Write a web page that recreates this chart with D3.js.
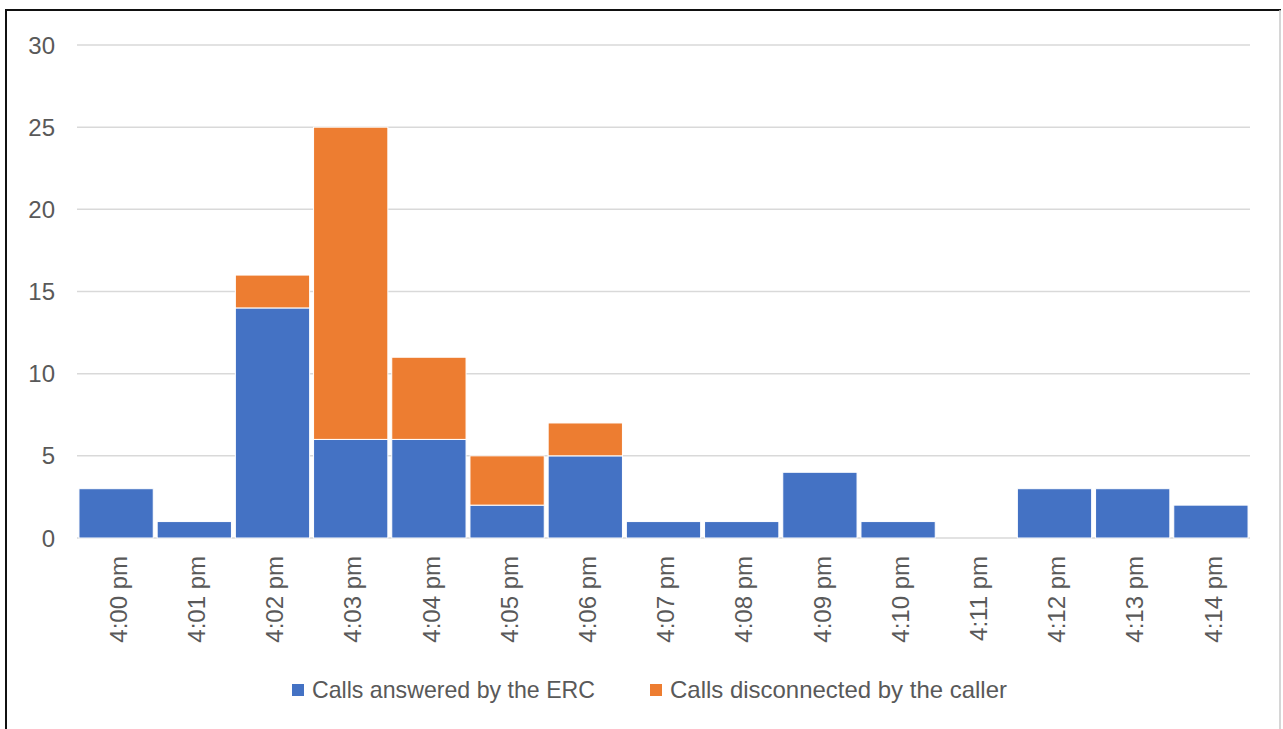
<!DOCTYPE html>
<html>
<head>
<meta charset="utf-8">
<script src="https://cdn.jsdelivr.net/npm/d3@7"></script>
<style>
  html, body { margin: 0; padding: 0; background: #fff; }
  svg { display: block; }
  text { font-family: "Liberation Sans", Arial, sans-serif; fill: #595959; }
</style>
</head>
<body>
<svg id="chart" width="1283" height="729"></svg>
<script>
const categories = ["4:00 pm","4:01 pm","4:02 pm","4:03 pm","4:04 pm","4:05 pm","4:06 pm","4:07 pm","4:08 pm","4:09 pm","4:10 pm","4:11 pm","4:12 pm","4:13 pm","4:14 pm"];
const answered =     [3, 1, 14, 6, 6, 2, 5, 1, 1, 4, 1, 0, 3, 3, 2];
const disconnected = [0, 0, 2, 19, 5, 3, 2, 0, 0, 0, 0, 0, 0, 0, 0];
const seriesNames = ["Calls answered by the ERC", "Calls disconnected by the caller"];
const yTicks = [0, 5, 10, 15, 20, 25, 30];

const colors = ["#4472C4", "#ED7D31"];
const svg = d3.select("#chart");

// frame
svg.append("line").attr("x1", 5).attr("x2", 1281).attr("y1", 10).attr("y2", 10).attr("stroke", "#111").attr("stroke-width", 2);
svg.append("line").attr("x1", 6).attr("x2", 6).attr("y1", 10).attr("y2", 729).attr("stroke", "#111").attr("stroke-width", 2);
svg.append("line").attr("x1", 1280).attr("x2", 1280).attr("y1", 10).attr("y2", 729).attr("stroke", "#c8c8c8").attr("stroke-width", 1.5);

const x = d3.scaleBand().domain(categories).range([77, 1250]).paddingInner(0.05).paddingOuter(0.025);
const y = d3.scaleLinear().domain([0, 30]).range([538, 45]);

// gridlines
svg.append("g").selectAll("line").data(yTicks).join("line")
  .attr("x1", 77).attr("x2", 1250)
  .attr("y1", d => y(d)).attr("y2", d => y(d))
  .attr("stroke", "#D9D9D9").attr("stroke-width", 1.5);

// y labels
svg.append("g").selectAll("text").data(yTicks).join("text")
  .attr("x", 55).attr("y", d => y(d)).attr("dy", "0.36em")
  .attr("text-anchor", "end").attr("font-size", 24)
  .text(d => d);

// stacked bars
const rows = categories.map((c, i) => ({cat: c, a: answered[i], d: disconnected[i]}));
const stack = d3.stack().keys(["a", "d"])(rows);
svg.append("g").selectAll("g").data(stack).join("g")
  .attr("fill", (s, i) => colors[i])
  .selectAll("rect").data(s => s.filter(p => p[1] - p[0] > 0)).join("rect")
  .attr("x", p => x(p.data.cat))
  .attr("width", x.bandwidth())
  .attr("y", p => y(p[1]))
  .attr("height", p => y(p[0]) - y(p[1]))
  .attr("stroke", "#fff").attr("stroke-width", 1);

// x labels
svg.append("g").selectAll("text").data(categories).join("text")
  .attr("transform", d => `translate(${x(d) + x.bandwidth() / 2 + 2},556) rotate(-90)`)
  .attr("text-anchor", "end").attr("dy", "0.36em")
  .attr("font-size", 24)
  .text(d => d);

// legend
const legendX = [292, 650];
const legendW = [283, 337];
const lg = svg.append("g").selectAll("g").data(seriesNames).join("g");
lg.append("rect").attr("x", (d, i) => legendX[i]).attr("y", 684).attr("width", 12).attr("height", 12).attr("fill", (d, i) => colors[i]);
lg.append("text").attr("x", (d, i) => legendX[i] + 20).attr("y", 698)
  .attr("font-size", 24)
  .attr("textLength", (d, i) => legendW[i]).attr("lengthAdjust", "spacingAndGlyphs")
  .text(d => d);
</script>
</body>
</html>
